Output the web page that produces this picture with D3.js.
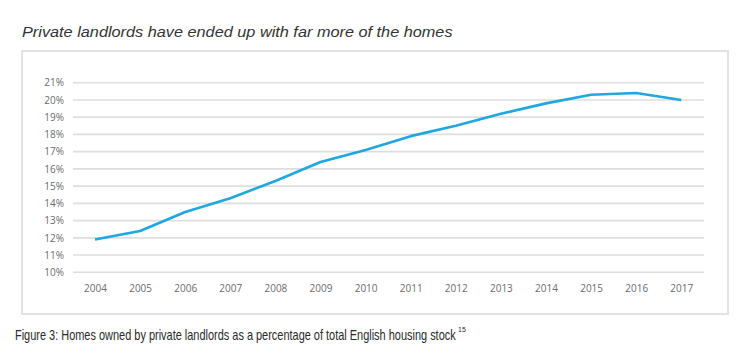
<!DOCTYPE html>
<html><head><meta charset="utf-8">
<script src="https://cdn.jsdelivr.net/npm/d3@7"></script>
<style>body{margin:0;background:#fff}svg{display:block}</style>
</head><body>
<script>
const years = ["2004","2005","2006","2007","2008","2009","2010","2011","2012","2013","2014","2015","2016","2017"];
const shares = [11.9,12.4,13.5,14.3,15.3,16.4,17.1,17.9,18.5,19.2,19.8,20.3,20.4,20.0];
const yTicks = [10,11,12,13,14,15,16,17,18,19,20,21];
const titleText = "Private landlords have ended up with far more of the homes";
const captionText = "Figure 3: Homes owned by private landlords as a percentage of total English housing stock";
const captionSup = "15";

const W = 743, H = 364;
const svg = d3.select("body").append("svg").attr("width", W).attr("height", H);

// frame
svg.append("rect").attr("x", 22).attr("y", 51).attr("width", 706).attr("height", 263)
  .attr("fill", "#fff").attr("stroke", "#e2e2e2").attr("stroke-width", 2);

const x = d3.scalePoint().domain(years).range([95, 681.3]);
const y = d3.scaleLinear().domain([10, 21]).range([272.3, 82.7]);

// grid
svg.append("g").selectAll("line").data(yTicks).join("line")
  .attr("x1", 73).attr("x2", 704)
  .attr("y1", d => y(d)).attr("y2", d => y(d))
  .attr("stroke", "#dedede").attr("stroke-width", 1.6);

const yAxis = svg.append("g").attr("transform", "translate(73,0)")
  .call(d3.axisLeft(y).tickValues(yTicks).tickFormat(d => d + "%").tickSize(0).tickPadding(9));
yAxis.select(".domain").remove();
yAxis.selectAll("text").attr("fill", "#6b6b6b").style("font-family", "'Open Sans', Arial, sans-serif").style("font-size", "10px");

const xAxis = svg.append("g").attr("transform", "translate(0,280)")
  .call(d3.axisBottom(x).tickSize(0).tickPadding(5));
xAxis.select(".domain").remove();
xAxis.selectAll("text").attr("fill", "#6b6b6b").style("font-family", "'Open Sans', Arial, sans-serif").style("font-size", "10px");

const line = d3.line().x((d, i) => x(years[i])).y(d => y(d));
svg.append("path").datum(shares).attr("d", line)
  .attr("fill", "none").attr("stroke", "#1ea7e1").attr("stroke-width", 2.6)
  .attr("stroke-linejoin", "round");

function fitText(g, tx, ty, target) {
  const t = g.select("text");
  const w = t.node().getComputedTextLength();
  g.attr("transform", `translate(${tx},${ty}) scale(${target / w},1)`);
}

// title
const tg = svg.append("g");
tg.append("text").attr("x", 0).attr("y", 0).text(titleText)
  .attr("fill", "#333").style("font-family", "Arial, 'Liberation Sans', sans-serif")
  .style("font-style", "italic").style("font-size", "14px");
fitText(tg, 22, 37, 431);

// caption
const cg = svg.append("g");
cg.append("text").attr("x", 0).attr("y", 0)
  .attr("fill", "#2a2a2a").style("font-family", "Arial, 'Liberation Sans', sans-serif").style("font-size", "14px")
  .text(captionText);
fitText(cg, 15, 340, 441);
svg.append("text").attr("x", 458).attr("y", 332)
  .attr("fill", "#2a2a2a").style("font-family", "Arial, 'Liberation Sans', sans-serif").style("font-size", "7px")
  .text(captionSup);
</script>
</body></html>
